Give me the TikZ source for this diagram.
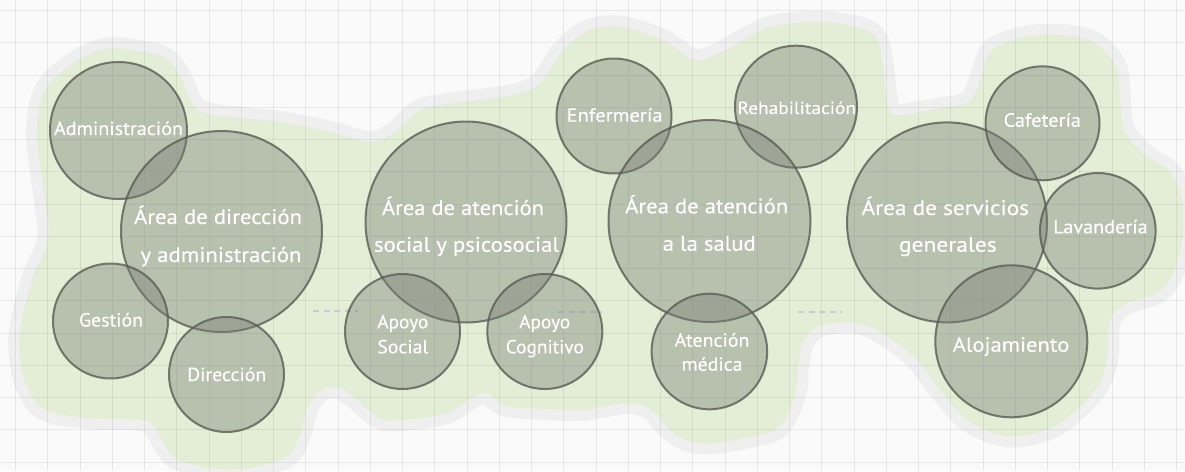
\documentclass[tikz,border=0pt]{standalone}
\usepackage{fontspec}
\usepackage{graphicx}
\setmainfont{PT Sans}
\newfontfamily\lblfont{PT Sans}[FakeBold=0.35]
\definecolor{bgc}{HTML}{FAFAFA}
\definecolor{haloc}{HTML}{EFEFEF}
\definecolor{blobc}{HTML}{E4EED6}
\definecolor{bubfill}{HTML}{7B7F76}
\definecolor{bubdraw}{HTML}{595D54}
\definecolor{dashc}{HTML}{C9CAD2}
\newcommand\fitw[2]{\resizebox{#1pt}{\height}{#2}}
\tikzset{
  bub/.style={circle, fill=bubfill, fill opacity=0.41, draw=bubdraw, draw opacity=0.8, line width=2pt, inner sep=0pt},
  sm/.style={text=white, font=\lblfont\fontsize{19}{22}\selectfont, anchor=base, inner sep=0pt},
  bigt/.style={text=white, font=\lblfont\fontsize{21}{24}\selectfont, anchor=base, inner sep=0pt},
  gridline/.style={black, opacity=0.07, line width=1pt},
  dashline/.style={dashc, line width=2pt, dash pattern=on 6pt off 4.5pt},
}
\begin{document}
\begin{tikzpicture}[x=1pt,y=-1pt]
\useasboundingbox (0,0) rectangle (1185,471);
\fill[bgc] (0,0) rectangle (1185,471);
% blob with halo
\path[preaction={draw=haloc, line width=22pt, line join=round}, fill=blobc]
  plot[smooth cycle, tension=0.55] coordinates {
  (37,130) (50,83) (100,50) (150,53) (170,62) (182,80) (192,103) (210,114)
  (280,122) (330,132) (370,142) (395,132) (420,110) (463,102) (513,95)
  (540,83) (563,50) (589,30) (622,27) (663,40) (696,60) (725,50) (770,27)
  (820,22) (861,28) (877,40) (883,67) (888,107) (898,115) (931,110) (968,102)
  (980,80) (992,50) (1025,37) (1062,35) (1095,43) (1116,67) (1120,100)
  (1124,130) (1145,155) (1170,172) (1182,200) (1182,240) (1173,273)
  (1157,293) (1127,303) (1110,320) (1107,360) (1095,390) (1060,423)
  (1027,435) (1000,435) (967,420) (940,390) (917,360) (893,340) (870,327)
  (847,322) (817,327) (803,343) (798,367) (795,395) (779,427) (749,437)
  (712,443) (686,440) (667,427) (652,410) (630,403) (600,407) (580,410)
  (513,407) (496,400) (487,393) (473,397) (446,413) (402,420) (379,418)
  (357,400) (339,388) (321,390) (308,407) (299,437) (286,457) (250,468)
  (210,468) (174,457) (156,430) (143,420) (89,418) (45,410) (27,387)
  (20,357) (20,330) (32,280) (48,240) (45,200)};
% grid
\foreach \i in {0,...,36} \draw[gridline] ({15.6+32.25*\i},0) -- ({15.6+32.25*\i},471);
\foreach \j in {0,...,14} \draw[gridline] (0,{10.6+32.25*\j}) -- (1185,{10.6+32.25*\j});
% dashed separators
\coordinate (s1a) at (313,311); \coordinate (s1b) at (358,311);
\coordinate (s2a) at (558,311.5); \coordinate (s2b) at (602,311.5);
\coordinate (s3a) at (798,311.5); \coordinate (s3b) at (842,311.5);
\draw[dashline] (s1a) -- (s1b);
\draw[dashline] (s2a) -- (s2b);
\draw[dashline] (s3a) -- (s3b);
% circles
\node[bub, minimum size=137pt] (adm) at (118.5,130.5) {};
\node[bub, minimum size=201pt] (dira) at (221.5,231.5) {};
\node[bub, minimum size=115pt] (ges) at (110.5,321) {};
\node[bub, minimum size=115pt] (dirc) at (226.5,374.5) {};
\node[bub, minimum size=201pt] (soca) at (466,222) {};
\node[bub, minimum size=115pt] (aso) at (402.5,331.5) {};
\node[bub, minimum size=115pt] (acog) at (544.8,331.5) {};
\node[bub, minimum size=115pt] (enf) at (614,116) {};
\node[bub, minimum size=122pt] (reh) at (796,106.7) {};
\node[bub, minimum size=202pt] (sala) at (709.5,221) {};
\node[bub, minimum size=115.6pt] (amed) at (709.4,351.5) {};
\node[bub, minimum size=200pt] (sera) at (947,222.4) {};
\node[bub, minimum size=114pt] (caf) at (1042.5,123.3) {};
\node[bub, minimum size=115.6pt] (lav) at (1097.8,230.8) {};
\node[bub, minimum size=152pt] (aloj) at (1011.3,341.3) {};
% labels
\node[sm] (tadm) at (118.5,135) {\fitw{129}{Administración}};
\node[bigt] (tdira1) at (218,224) {\fitw{168}{Área de dirección}};
\node[bigt] (tdira2) at (221,262) {\fitw{161}{y administración}};
\node[sm] (tges) at (111,326.5) {\fitw{64}{Gestión}};
\node[sm] (tdirc) at (226.7,381) {\fitw{79}{Dirección}};
\node[bigt] (tsoca1) at (463,215) {\fitw{162}{Área de atención}};
\node[bigt] (tsoca2) at (466.5,251.7) {\fitw{185}{social y psicosocial}};
\node[sm] (taso1) at (402.8,328.3) {\fitw{51}{Apoyo}};
\node[sm] (taso2) at (402.8,353.3) {\fitw{51}{Social}};
\node[sm] (tacog1) at (544.7,328.3) {\fitw{51}{Apoyo}};
\node[sm] (tacog2) at (544.8,353.3) {\fitw{78}{Cognitivo}};
\node[sm] (tenf) at (614.6,121.7) {\fitw{96}{Enfermería}};
\node[sm, font=\lblfont\fontsize{17.5}{20}\selectfont] (treh) at (796.8,114) {\fitw{118.5}{Rehabilitación}};
\node[bigt] (tsala1) at (706.7,213.3) {\fitw{163}{Área de atención}};
\node[bigt] (tsala2) at (709.2,250.7) {\fitw{93}{a la salud}};
\node[sm] (tamed1) at (712,346.7) {\fitw{74.7}{Atención}};
\node[sm] (tamed2) at (712,370.7) {\fitw{61}{médica}};
\node[bigt] (tsera1) at (945.3,215) {\fitw{167.3}{Área de servicios}};
\node[bigt] (tsera2) at (947.8,251.7) {\fitw{97.7}{generales}};
\node[sm] (tcaf) at (1042.3,126.7) {\fitw{77.4}{Cafetería}};
\node[sm] (tlav) at (1100.5,233.3) {\fitw{94.4}{Lavandería}};
\node[sm, font=\lblfont\fontsize{20.5}{24}\selectfont] (taloj) at (1011,351.7) {\fitw{116.6}{Alojamiento}};
\end{tikzpicture}
\end{document}
